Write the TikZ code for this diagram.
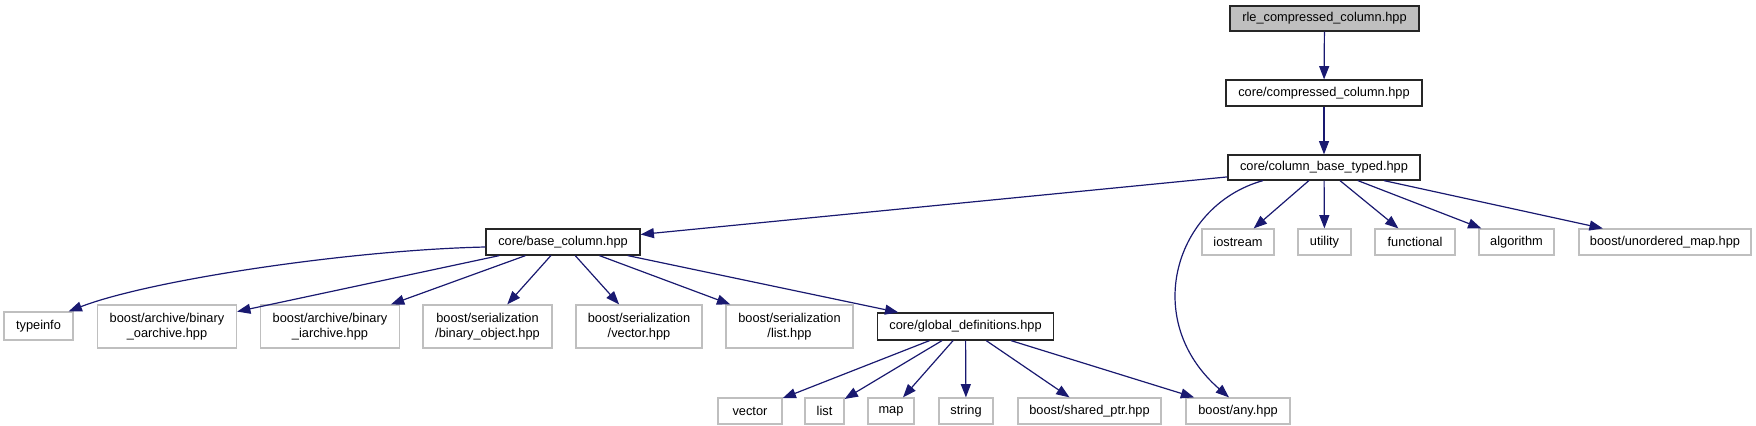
\documentclass[tikz,border=0pt]{standalone}
\usepackage{fontspec}
\setmainfont{Liberation Sans}
\usepackage{xcolor}
\usepackage{tikz}
\usetikzlibrary{arrows.meta, positioning, calc}
\definecolor{edgeblue}{HTML}{191970}
\definecolor{sysgray}{HTML}{BFBFBF}
\newcommand{\px}{0.75pt}
\tikzstyle{hdrfile} = [rectangle, draw=black!85, line width=0.9pt, fill=white, inner sep=0pt, minimum height=25*\px, align=center, font=\fontsize{9.6}{11}\selectfont]
\tikzstyle{sysfile} = [rectangle, draw=sysgray, line width=0.9pt, fill=white, inner sep=0pt, minimum height=26*\px, align=center, font=\fontsize{9.6}{11}\selectfont]
\tikzstyle{arrow} = [line width=0.9pt, draw=edgeblue, -{Triangle[length=10pt,width=7.5pt]}, color=edgeblue]

\begin{document}
\begin{tikzpicture}[x=0.75pt, y=-0.75pt]
\useasboundingbox (0,0) rectangle (1756,425);

% Main chain
\node[hdrfile, fill=sysgray, minimum width=189*\px] (rle) at (1324.5,18.5) {rle\_compressed\_column.hpp};
\node[hdrfile, minimum width=196*\px, minimum height=26*\px] (comp) at (1324,93) {core/compressed\_column.hpp};
\node[hdrfile, minimum width=192*\px] (cbt) at (1324,167.5) {core/column\_base\_typed.hpp};

% Second rank
\node[hdrfile, minimum width=154*\px, minimum height=26*\px] (basecol) at (563,242) {core/base\_column.hpp};
\node[sysfile, minimum width=72*\px] (iostream) at (1238,242) {iostream};
\node[sysfile, minimum width=53*\px] (utility) at (1324.5,242) {utility};
\node[sysfile, minimum width=80*\px] (functional) at (1415,242) {functional};
\node[sysfile, minimum width=75*\px] (algorithm) at (1516.5,242) {algorithm};
\node[sysfile, minimum width=172*\px] (unordmap) at (1665,242) {boost/unordered\_map.hpp};

% Third rank
\node[sysfile, minimum width=69*\px, minimum height=28*\px] (typeinfo) at (38.5,326) {typeinfo};
\node[sysfile, minimum width=139*\px, minimum height=43*\px] (oarch) at (167,326.5) {boost/archive/binary\\\_oarchive.hpp};
\node[sysfile, minimum width=139*\px, minimum height=43*\px] (iarch) at (330,326.5) {boost/archive/binary\\\_iarchive.hpp};
\node[sysfile, minimum width=129*\px, minimum height=43*\px] (binobj) at (487.5,326.5) {boost/serialization\\/binary\_object.hpp};
\node[sysfile, minimum width=126*\px, minimum height=43*\px] (vecser) at (639,326.5) {boost/serialization\\/vector.hpp};
\node[sysfile, minimum width=127*\px, minimum height=43*\px] (listser) at (789.5,326.5) {boost/serialization\\/list.hpp};
\node[hdrfile, minimum width=176*\px, minimum height=27*\px] (globdef) at (965.5,326.5) {core/global\_definitions.hpp};

% Fourth rank
\node[sysfile, minimum width=64*\px] (vector) at (750,411) {vector};
\node[sysfile, minimum width=39*\px] (list) at (824.5,411) {list};
\node[sysfile, minimum width=46*\px] (map) at (891,411) {map};
\node[sysfile, minimum width=54*\px] (string) at (966,411) {string};
\node[sysfile, minimum width=143*\px] (sharedptr) at (1089.5,411) {boost/shared\_ptr.hpp};
\node[sysfile, minimum width=104*\px] (anyhpp) at (1238,411) {boost/any.hpp};

% Arrows
\draw[arrow] (rle) -- (comp);
\draw[arrow] (comp) -- (cbt);
\draw[arrow] (cbt) -- (basecol);
\draw[arrow] ([xshift=-61*\px]cbt.south) .. controls (1175,205) and (1140,320) .. ([xshift=-9*\px]anyhpp.north);
\draw[arrow] (cbt) -- (iostream);
\draw[arrow] (cbt) -- (utility);
\draw[arrow] (cbt) -- (functional);
\draw[arrow] (cbt) -- (algorithm);
\draw[arrow] (cbt) -- (unordmap);
\draw[arrow] ([yshift=-5*\px]basecol.west) .. controls (350,250) and (150,280) .. ([xshift=-5*\px]typeinfo.north east);
\draw[arrow] (basecol) -- (oarch);
\draw[arrow] (basecol) -- (iarch);
\draw[arrow] (basecol) -- (binobj);
\draw[arrow] (basecol) -- (vecser);
\draw[arrow] (basecol) -- (listser);
\draw[arrow] (basecol) -- (globdef);
\draw[arrow] (globdef) -- (vector);
\draw[arrow] (globdef) -- (list);
\draw[arrow] (globdef) -- (map);
\draw[arrow] (globdef) -- (string);
\draw[arrow] (globdef) -- (sharedptr);
\draw[arrow] (globdef) -- (anyhpp);
\end{tikzpicture}
\end{document}
